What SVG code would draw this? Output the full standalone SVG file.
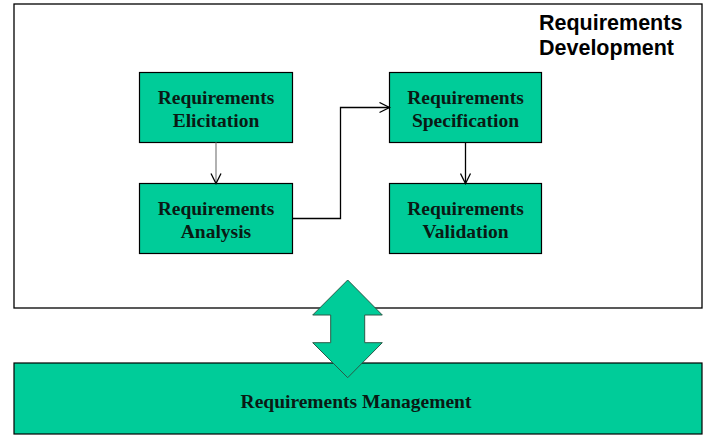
<svg xmlns="http://www.w3.org/2000/svg" width="710" height="439" viewBox="0 0 710 439">
<defs>
<marker id="chev" viewBox="0 0 12 12" refX="11" refY="6" markerWidth="12" markerHeight="12" markerUnits="userSpaceOnUse" orient="auto">
<path d="M1,1 L11,6 L1,11" fill="none" stroke="#000" stroke-width="1.3"/>
</marker>
<style>
.box{fill:#00CC99;stroke:#000;stroke-width:1.2}
.lbl{font-family:"Liberation Serif","Times New Roman",serif;font-weight:bold;font-size:19.5px;fill:#0a1a14;text-anchor:middle}
.title{font-family:"Liberation Sans",Arial,sans-serif;font-weight:bold;font-size:21.5px;fill:#000}
.conn{fill:none;stroke:#000;stroke-width:1.3}
</style>
</defs>
<rect width="710" height="439" fill="#fff"/>
<g id="dev">
<rect x="14" y="4" width="688" height="304" fill="#fff" stroke="#000" stroke-width="1.3"/>
<text class="title" x="539" y="30">Requirements</text>
<text class="title" x="539" y="55">Development</text>
</g>
<g id="mgmt">
<rect class="box" x="14" y="363" width="688" height="71"/>
<text class="lbl" x="356" y="408">Requirements Management</text>
</g>
<g id="arrow2">
<polygon points="347.7,280 382.3,315 364.7,315 364.7,342.7 382.3,342.7 347.7,377.7 312.7,342.7 330.7,342.7 330.7,315 312.7,315" fill="#00CC99" stroke="#2a5a48" stroke-width="1"/>
</g>
<g id="elicitation">
<rect class="box" x="139.5" y="72.5" width="153" height="70"/>
<text class="lbl" x="216" y="104">Requirements</text>
<text class="lbl" x="216" y="127">Elicitation</text>
</g>
<g id="analysis">
<rect class="box" x="139.5" y="183.5" width="153" height="70"/>
<text class="lbl" x="216" y="215">Requirements</text>
<text class="lbl" x="216" y="238">Analysis</text>
</g>
<g id="specification">
<rect class="box" x="389.5" y="72.5" width="152" height="70"/>
<text class="lbl" x="465.5" y="104">Requirements</text>
<text class="lbl" x="465.5" y="127">Specification</text>
</g>
<g id="validation">
<rect class="box" x="389.5" y="183.5" width="152" height="70"/>
<text class="lbl" x="465.5" y="215">Requirements</text>
<text class="lbl" x="465.5" y="238">Validation</text>
</g>
<g id="connectors">
<path class="conn" d="M216,142.5 L216,183.5" marker-end="url(#chev)" style="stroke:#888"/>
<path class="conn" d="M292.5,218.5 L340.5,218.5 L340.5,107.5 L389.5,107.5" marker-end="url(#chev)"/>
<path class="conn" d="M465.5,142.5 L465.5,183.5" marker-end="url(#chev)"/>
</g>
</svg>
